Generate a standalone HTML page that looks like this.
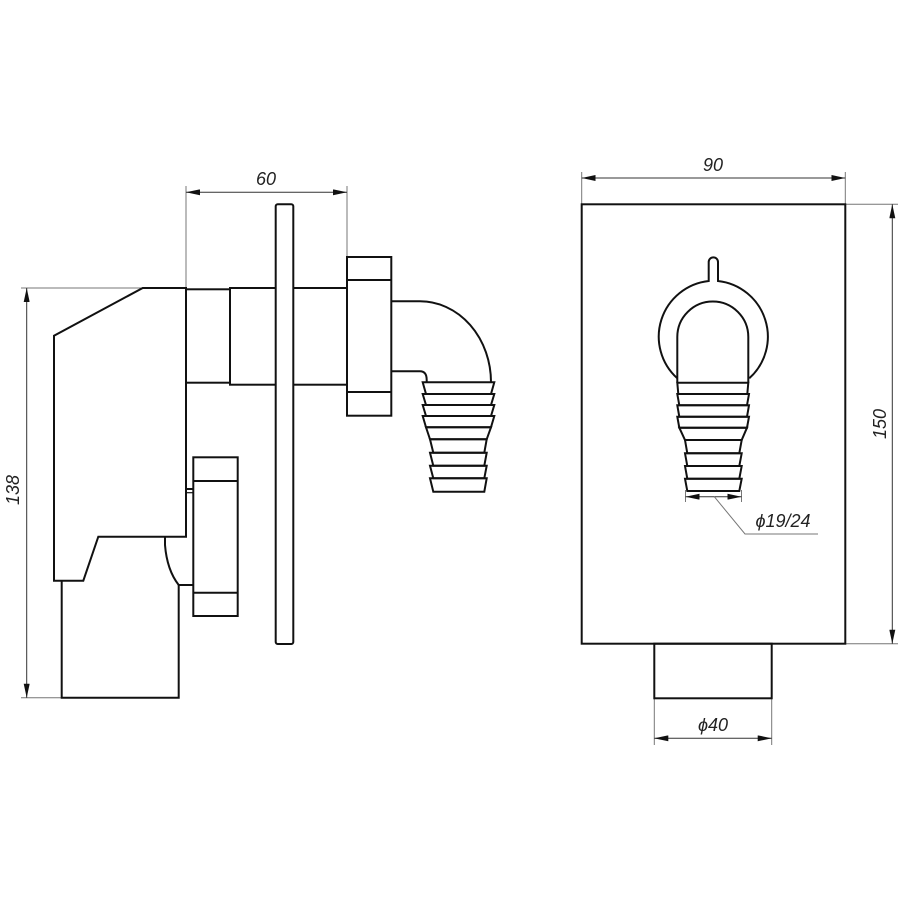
<!DOCTYPE html>
<html><head><meta charset="utf-8"><style>
html,body{margin:0;padding:0;background:#fff;}
svg{display:block}
text{font-family:"Liberation Sans",sans-serif;font-style:italic;fill:#222;font-size:18px;}
</style></head><body>
<svg width="900" height="900" viewBox="0 0 900 900" xmlns="http://www.w3.org/2000/svg">
<defs>
<marker id="a" viewBox="0 0 14 6" refX="14" refY="3" markerWidth="14" markerHeight="6" markerUnits="userSpaceOnUse" orient="auto-start-reverse">
<path d="M0,0 L14,3 L0,6 Z" fill="#111"/></marker>
</defs>
<g fill="none" stroke="#777" stroke-width="1">
<!-- 60 dim -->
<line x1="186" y1="186" x2="186" y2="288"/>
<line x1="347" y1="186" x2="347" y2="257"/>
<line x1="186" y1="192.3" x2="347" y2="192.3" stroke="#333" marker-start="url(#a)" marker-end="url(#a)"/>
<!-- 138 dim -->
<line x1="21" y1="288" x2="142" y2="288"/>
<line x1="21" y1="697.7" x2="62" y2="697.7"/>
<line x1="26.7" y1="288" x2="26.7" y2="697.7" stroke="#333" marker-start="url(#a)" marker-end="url(#a)"/>
<!-- 90 dim -->
<line x1="581.7" y1="172" x2="581.7" y2="204"/>
<line x1="845.3" y1="172" x2="845.3" y2="204"/>
<line x1="581.7" y1="178" x2="845.3" y2="178" stroke="#333" marker-start="url(#a)" marker-end="url(#a)"/>
<!-- 150 dim -->
<line x1="845.3" y1="204.3" x2="898" y2="204.3"/>
<line x1="845.3" y1="643.7" x2="898" y2="643.7"/>
<line x1="892.3" y1="204.3" x2="892.3" y2="643.7" stroke="#333" marker-start="url(#a)" marker-end="url(#a)"/>
<!-- phi40 -->
<line x1="654.3" y1="698" x2="654.3" y2="745"/>
<line x1="771.7" y1="698" x2="771.7" y2="745"/>
<line x1="654.3" y1="738.3" x2="771.7" y2="738.3" stroke="#333" marker-start="url(#a)" marker-end="url(#a)"/>
<!-- phi19/24 -->
<line x1="685.5" y1="490" x2="685.5" y2="502"/>
<line x1="741.5" y1="490" x2="741.5" y2="502"/>
<line x1="685.5" y1="496.7" x2="741.5" y2="496.7" stroke="#333" marker-start="url(#a)" marker-end="url(#a)"/>
<polyline points="714.3,496.7 745,534 818,534"/>
</g>
<text x="266" y="185" text-anchor="middle">60</text>
<text x="713" y="171" text-anchor="middle">90</text>
<text x="713" y="731" text-anchor="middle">ϕ40</text>
<text x="783" y="527" text-anchor="middle">ϕ19/24</text>
<text transform="translate(19,490) rotate(-90)" text-anchor="middle">138</text>
<text transform="translate(886,424) rotate(-90)" text-anchor="middle">150</text>

<g fill="none" stroke="#111" stroke-width="2" stroke-linejoin="miter">
<!-- left view body -->
<polygon points="142.7,288 186,288 186,536.7 98.3,536.7 83.3,580.7 54,580.7 54,335.7"/>
<polyline points="61.7,580.7 61.7,697.7 178.7,697.7 178.7,585"/>
<path d="M165,536.7 L165,545 Q167,570 178.7,585 L193.3,585"/>
<line x1="186" y1="489" x2="193.3" y2="489"/>
<line x1="186" y1="492.7" x2="193.3" y2="492.7" stroke-width="1.2"/>
<rect x="193.3" y="457.3" width="44.4" height="158.7"/>
<line x1="193.3" y1="481" x2="237.7" y2="481"/>
<line x1="193.3" y1="592.7" x2="237.7" y2="592.7"/>
<!-- upper pipe -->
<rect x="186" y="289.3" width="44" height="93.4"/>
<rect x="230" y="288" width="117" height="96.7"/>
<!-- plate -->
<rect x="275.7" y="204.3" width="17.6" height="439.7" rx="2" fill="#fff"/>
<!-- upper nut -->
<rect x="347" y="257" width="44.3" height="158.7"/>
<line x1="347" y1="280" x2="391.3" y2="280"/>
<line x1="347" y1="392" x2="391.3" y2="392"/>
<!-- elbow -->
<path d="M391.3,301.3 L420,301.3 A71,81 0 0 1 491,382.3"/>
<path d="M391.3,371.3 L420,371.3 Q426.7,371.3 426.7,380 L426.7,382.3"/>
<!-- ribs left -->
<polygon points="422.7,382.3 494.3,382.3 491,394 426,394"/>
<polygon points="422.7,394 494.3,394 491,405 426,405"/>
<polygon points="422.7,405 494.3,405 491,416 426,416"/>
<polygon points="422.7,416 494.3,416 491,427.3 426,427.3"/>
<polygon points="426,427.3 491,427.3 486.7,439.3 430,439.3"/>
<polygon points="430,439.3 486.7,439.3 484.3,452.7 433.3,452.7"/>
<polygon points="430,452.7 486.7,452.7 484.3,465.7 433.3,465.7"/>
<polygon points="430,465.7 486.7,465.7 484.3,478.3 433.3,478.3"/>
<polygon points="430,478.3 486.7,478.3 484.3,491.7 433.3,491.7"/>

<!-- right view -->
<rect x="581.7" y="204.3" width="263.6" height="439.4"/>
<rect x="654.3" y="643.7" width="117.4" height="54.6"/>
<path d="M677.3,378.3 A56,56 0 0 1 708.7,281 L708.7,262 A4.6,4.6 0 0 1 718,262 L718,281 A56,56 0 0 1 749.3,378.3"/>
<path d="M677.3,382.7 L677.3,337 A35.5,35.5 0 0 1 748.3,337 L748.3,382.7"/>
<polygon points="677.3,382.7 748.3,382.7 747.3,394 678.3,394"/>
<polygon points="677.3,394 749,394 747,405.3 679.3,405.3"/>
<polygon points="677.3,405.3 749,405.3 747,416.7 679.3,416.7"/>
<polygon points="677.3,416.7 749,416.7 747,427.7 679.3,427.7"/>
<polygon points="679.3,427.7 747,427.7 741.7,440 685,440"/>
<polygon points="685,440 741.7,440 739.3,453.3 687.3,453.3"/>
<polygon points="685,453.3 741.7,453.3 739.3,466 687.3,466"/>
<polygon points="685,466 741.7,466 739.3,478.7 687.3,478.7"/>
<polygon points="685,478.7 741.7,478.7 739.3,491 687.3,491"/>
</g>
</svg>
</body></html>
